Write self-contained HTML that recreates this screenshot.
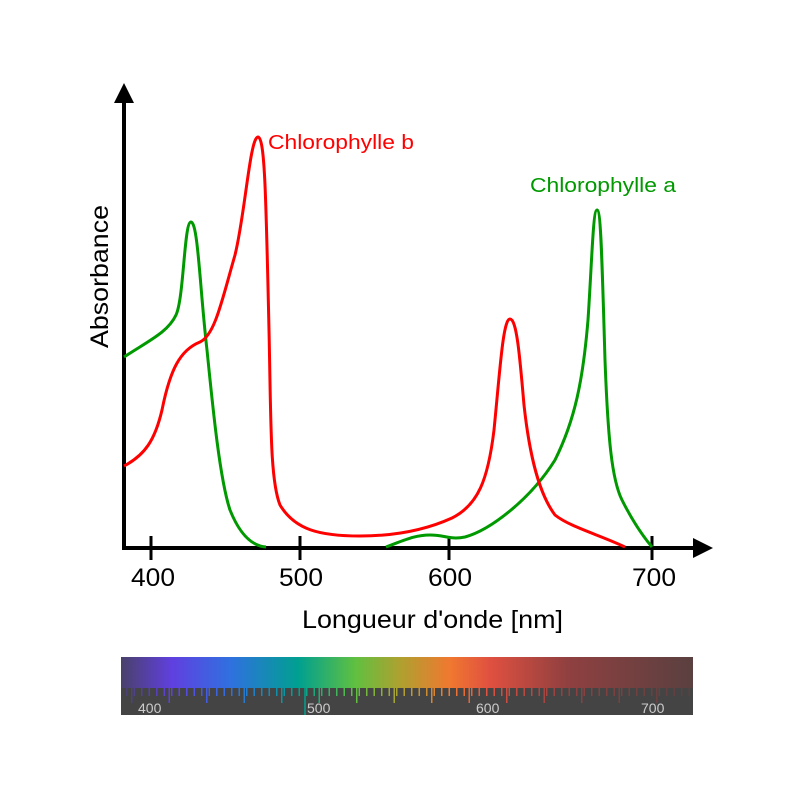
<!DOCTYPE html>
<html><head><style>body{margin:0;background:#fff}svg{display:block}</style></head>
<body>
<svg width="800" height="800" viewBox="0 0 800 800" xmlns="http://www.w3.org/2000/svg" font-family="Liberation Sans, sans-serif">
<defs>
<linearGradient id="sp" x1="0" x2="1" y1="0" y2="0">
<stop offset="0" stop-color="#4a416a"/>
<stop offset="0.09" stop-color="#6040e0"/>
<stop offset="0.19" stop-color="#3070e0"/>
<stop offset="0.31" stop-color="#00a090"/>
<stop offset="0.41" stop-color="#60c040"/>
<stop offset="0.49" stop-color="#b0a030"/>
<stop offset="0.575" stop-color="#f07830"/>
<stop offset="0.645" stop-color="#e05040"/>
<stop offset="0.78" stop-color="#904040"/>
<stop offset="1" stop-color="#5a4040"/>
</linearGradient>
<pattern id="tk" x="126" y="0" width="7.5" height="800" patternUnits="userSpaceOnUse">
<rect x="0" y="0" width="1.5" height="800" fill="#fff"/>
</pattern>
<pattern id="tk2" x="131" y="0" width="37.5" height="800" patternUnits="userSpaceOnUse">
<rect x="0" y="0" width="1.5" height="800" fill="#fff"/>
</pattern>
<mask id="m1"><rect x="121" y="688" width="572" height="8" fill="url(#tk)"/></mask>
<mask id="m2"><rect x="121" y="688" width="572" height="15" fill="url(#tk2)"/></mask>
</defs>
<!-- axes -->
<line x1="124" y1="100" x2="124" y2="549" stroke="#000" stroke-width="4"/>
<polygon points="124,83 114,103 134,103" fill="#000"/>
<line x1="122" y1="548" x2="696" y2="548" stroke="#000" stroke-width="4"/>
<polygon points="713,548 693,538 693,558" fill="#000"/>
<g stroke="#000" stroke-width="3">
<line x1="151" y1="536" x2="151" y2="560"/>
<line x1="300" y1="536" x2="300" y2="560"/>
<line x1="449" y1="536" x2="449" y2="560"/>
<line x1="652" y1="536" x2="652" y2="560"/>
</g>
<g font-size="25" fill="#000">
<text x="131" y="586" textLength="44" lengthAdjust="spacingAndGlyphs">400</text>
<text x="279" y="586" textLength="44" lengthAdjust="spacingAndGlyphs">500</text>
<text x="428" y="586" textLength="44" lengthAdjust="spacingAndGlyphs">600</text>
<text x="632" y="586" textLength="44" lengthAdjust="spacingAndGlyphs">700</text>
<text x="302" y="628" textLength="261" lengthAdjust="spacingAndGlyphs">Longueur d'onde [nm]</text>
<text transform="translate(108,348) rotate(-90)" textLength="143" lengthAdjust="spacingAndGlyphs">Absorbance</text>
</g>
<!-- green -->
<path fill="none" stroke="#009900" stroke-width="3" d="M124,357 C150,340 168,332 176,315 C184,298 184,222 191,222 C198,222 200,290 207,350 C213,410 220,480 230,510 C240,535 252,546 266,547"/>
<path fill="none" stroke="#009900" stroke-width="3" d="M386,547 C405,540 415,535 430,535 C445,535 450,540 465,537 C490,530 530,500 555,460 C575,420 583,380 588,320 C592,260 593,210 597,210 C601,210 602,260 605,360 C608,440 612,480 622,500 C632,520 642,535 652,547"/>
<!-- red -->
<path fill="none" stroke="#ff0000" stroke-width="3" d="M124,466 C145,455 155,440 162,410 C170,370 180,350 200,342 C215,335 222,300 235,255 C245,215 250,137 258,137 C265,137 266,200 269,330 C271,420 270,480 280,505 C295,530 320,536 360,536 C400,536 430,528 452,518 C478,505 488,480 494,430 C500,370 503,319 510,319 C517,319 520,360 524,405 C530,460 540,495 555,515 C570,527 600,535 625,547"/>
<text x="268" y="149" font-size="20" fill="#ff0000" textLength="146" lengthAdjust="spacingAndGlyphs">Chlorophylle b</text>
<text x="530" y="192" font-size="20" fill="#009900" textLength="146" lengthAdjust="spacingAndGlyphs">Chlorophylle a</text>
<!-- spectrum -->
<rect x="121" y="657" width="572" height="58" fill="#444"/>
<rect x="121" y="657" width="572" height="31" fill="url(#sp)"/>
<rect x="121" y="688" width="572" height="8" fill="url(#sp)" mask="url(#m1)"/>
<rect x="121" y="688" width="572" height="15" fill="url(#sp)" mask="url(#m2)"/>
<g font-size="14" fill="#ccc">
<text x="138" y="713">400</text>
<text x="307" y="713">500</text>
<text x="476" y="713">600</text>
<text x="641" y="713">700</text>
</g>
<line x1="305" y1="688" x2="305" y2="715" stroke="#00a090" stroke-width="1.5"/>
</svg>
</body></html>
